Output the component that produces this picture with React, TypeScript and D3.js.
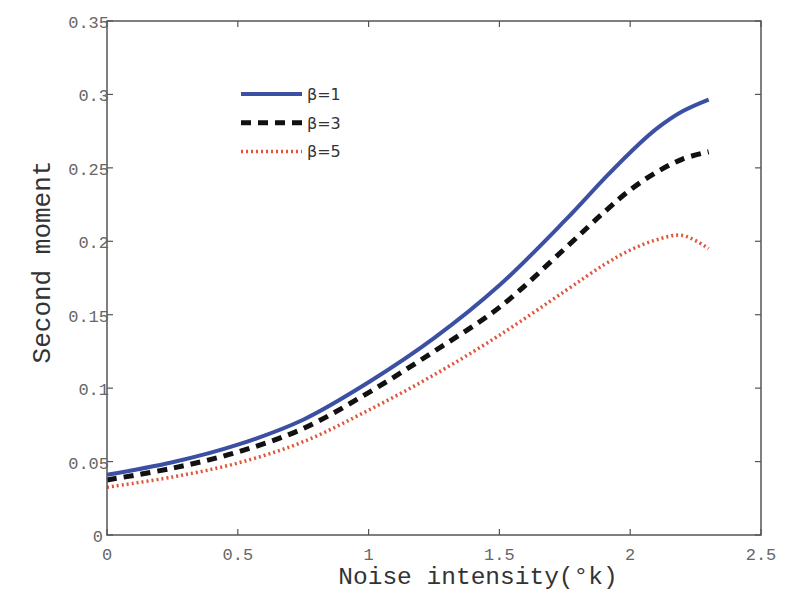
import React from 'react';
import * as d3 from 'd3';

// noise intensity sample points
const noise = [0, 0.25, 0.5, 0.75, 1.0, 1.25, 1.5, 1.75, 1.9, 2.0, 2.1, 2.2, 2.3];

const beta1 = [0.041, 0.0495, 0.0615, 0.0785, 0.104, 0.134, 0.17, 0.214, 0.2425, 0.2605, 0.2765, 0.2885, 0.2965];
const beta3 = [0.0375, 0.0455, 0.0565, 0.0725, 0.097, 0.125, 0.155, 0.195, 0.2198, 0.235, 0.247, 0.256, 0.261];
const beta5 = [0.0325, 0.0395, 0.049, 0.0635, 0.085, 0.109, 0.136, 0.166, 0.184, 0.194, 0.201, 0.204, 0.195];

const xTicks = [0, 0.5, 1, 1.5, 2, 2.5];
const yTicks = [0, 0.05, 0.1, 0.15, 0.2, 0.25, 0.3, 0.35];

const seriesList = [
  { label: 'β=1', values: beta1, color: '#3b4fa3', width: 4, dash: 'none' },
  { label: 'β=3', values: beta3, color: '#111111', width: 5, dash: '10,7' },
  { label: 'β=5', values: beta5, color: '#e0553c', width: 3.5, dash: '2,3' },
];

const W = 795;
const H = 594;
const margin = { left: 107, right: 34, top: 21, bottom: 59 };

export default function App() {
  const x = d3.scaleLinear().domain([0, 2.5]).range([margin.left, W - margin.right]);
  const y = d3.scaleLinear().domain([0, 0.35]).range([H - margin.bottom, margin.top]);

  const line = d3.line<[number, number]>()
    .x(d => x(d[0]))
    .y(d => y(d[1]))
    .curve(d3.curveCatmullRom.alpha(0.5));

  const x0 = x(0), x1 = x(2.5), y0 = y(0), y1 = y(0.35);
  const tickLen = 6;
  const axisColor = '#555';
  const mono = '"Liberation Mono", "DejaVu Sans Mono", monospace';

  return (
    <svg width={W} height={H} style={{ position: 'absolute', left: 0, top: 0, background: '#fff' }}>
      {/* curves */}
      {seriesList.map(s => (
        <path
          key={s.label}
          d={line(noise.map((n, i) => [n, s.values[i]]) as [number, number][]) || ''}
          fill="none"
          stroke={s.color}
          strokeWidth={s.width}
          strokeDasharray={s.dash}
        />
      ))}

      {/* box */}
      <rect x={x0} y={y1} width={x1 - x0} height={y0 - y1} fill="none" stroke={axisColor} strokeWidth={1.5} />

      {/* x ticks */}
      {xTicks.map(t => (
        <g key={'x' + t}>
          <line x1={x(t)} x2={x(t)} y1={y0} y2={y0 - tickLen} stroke={axisColor} strokeWidth={1.2} />
          <line x1={x(t)} x2={x(t)} y1={y1} y2={y1 + tickLen} stroke={axisColor} strokeWidth={1.2} />
          <text x={x(t)} y={y0 + 25} textAnchor="middle" fontFamily={mono} fontSize={17} fill="#666">
            {t}
          </text>
        </g>
      ))}

      {/* y ticks */}
      {yTicks.map(t => (
        <g key={'y' + t}>
          <line x1={x0} x2={x0 + tickLen} y1={y(t)} y2={y(t)} stroke={axisColor} strokeWidth={1.2} />
          <line x1={x1} x2={x1 - tickLen} y1={y(t)} y2={y(t)} stroke={axisColor} strokeWidth={1.2} />
          <text x={t === 0 ? x0 - 4 : x0 + 2} y={y(t) + 7} textAnchor="end" fontFamily={mono} fontSize={17} fill="#666">
            {t}
          </text>
        </g>
      ))}

      {/* axis titles */}
      <text x={(x0 + x1) / 2 + 44} y={H - 10} textAnchor="middle" fontFamily={mono} fontSize={24.5} fill="#333">
        Noise intensity(°k)
      </text>
      <text
        transform={`translate(50, ${(y0 + y1) / 2 - 16}) rotate(-90)`}
        textAnchor="middle"
        fontFamily={mono}
        fontSize={26}
        fill="#333"
      >
        Second moment
      </text>

      {/* legend */}
      {seriesList.map((s, i) => {
        const ly = 94 + i * 28.7;
        return (
          <g key={'leg' + s.label}>
            <line x1={241} x2={302} y1={ly} y2={ly} stroke={s.color} strokeWidth={s.width} strokeDasharray={s.dash} />
            <text x={307} y={ly + 6} fontFamily='"DejaVu Sans", sans-serif' fontSize={16} fill="#333">
              {s.label}
            </text>
          </g>
        );
      })}
    </svg>
  );
}
